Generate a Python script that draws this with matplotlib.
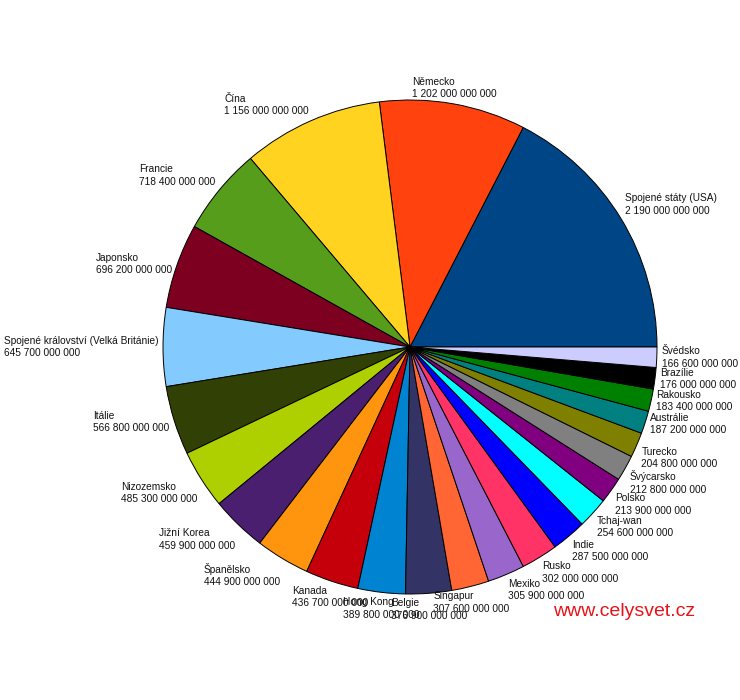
import numpy as np
import matplotlib
matplotlib.use("Agg")
import matplotlib.pyplot as plt

countries = ["Spojené státy (USA)", "Německo", "Čína", "Francie", "Japonsko",
             "Spojené království (Velká Británie)", "Itálie", "Nizozemsko",
             "Jižní Korea", "Španělsko", "Kanada", "Hong Kong", "Belgie",
             "Singapur", "Mexiko", "Rusko", "Indie", "Tchaj-wan", "Polsko",
             "Švýcarsko", "Turecko", "Austrálie", "Rakousko", "Brazílie", "Švédsko"]
values = [2190000000000, 1202000000000, 1156000000000, 718400000000, 696200000000,
          645700000000, 566800000000, 485300000000, 459900000000, 444900000000,
          436700000000, 389800000000, 376900000000, 307600000000, 305900000000,
          302000000000, 287500000000, 254600000000, 213900000000, 212800000000,
          204800000000, 187200000000, 183400000000, 176000000000, 166600000000]
colors = ["#004586", "#ff420e", "#ffd320", "#579d1c", "#7e0021", "#83caff",
          "#314004", "#aecf00", "#4b1f6f", "#ff950e", "#c5000b", "#0084d1",
          "#333366", "#ff6633", "#9966cc", "#ff3366", "#0000ff", "#00ffff",
          "#800080", "#808080", "#808000", "#008080", "#008000", "#000000",
          "#ccccff"]

plt.rcParams['font.family'] = ['Liberation Sans', 'DejaVu Sans']

W, H = 740, 700
fig = plt.figure(figsize=(W / 100, H / 100), dpi=100)
cx, cy, r = 410, 347, 247
ax = fig.add_axes([(cx - r) / W, (H - cy - r) / H, 2 * r / W, 2 * r / H])

wedges, _ = ax.pie(values, colors=colors, startangle=0, counterclock=True,
                   radius=1.0, wedgeprops=dict(edgecolor='black', linewidth=0.7))
ax.set_xlim(-1, 1)
ax.set_ylim(-1, 1)
ax.set_aspect('equal')
ax.axis('off')

def fmt(v):
    return f"{v:,}".replace(",", " ")

for w, name, v in zip(wedges, countries, values):
    ang = np.deg2rad((w.theta1 + w.theta2) / 2)
    c, s = np.cos(ang), np.sin(ang)
    rr = 1.02
    x, y = rr * c, rr * s
    ha = 'left' if c > 0.35 else ('right' if c < -0.35 else 'center')
    va = 'bottom' if s > 0.35 else ('top' if s < -0.35 else 'center')
    ax.text(x, y, f"{name}\n{fmt(v)}", ha=ha, va=va, multialignment='left',
            fontsize=7.3, color='#111111', clip_on=False, linespacing=1.3)

fig.text(624 / W, 1 - 612 / H, "www.celysvet.cz", color='#e8141a', fontsize=14,
         ha='center', va='center')

fig.savefig("out.png", dpi=100, facecolor='white')
